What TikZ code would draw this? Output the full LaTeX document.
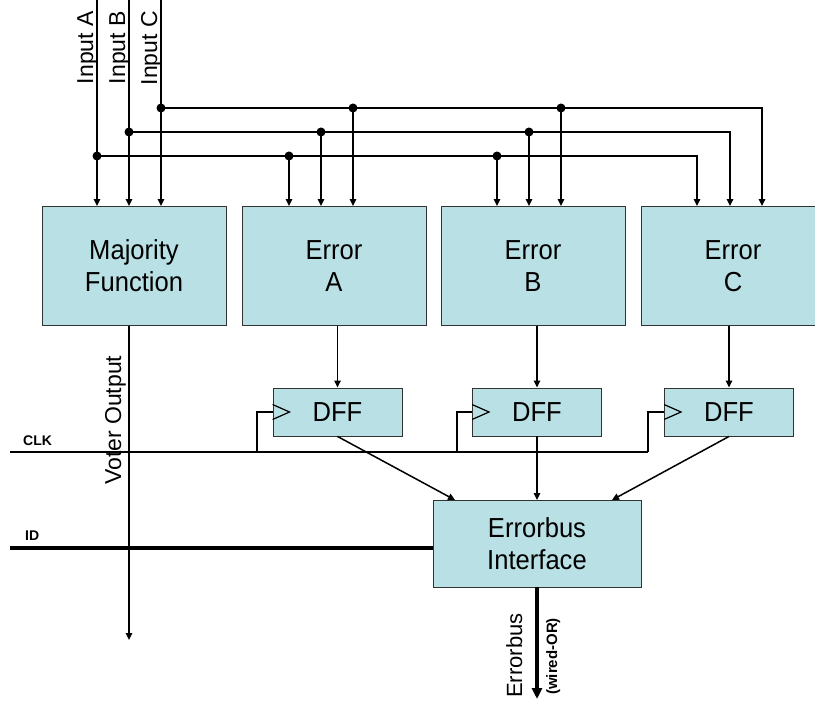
\documentclass[tikz,border=0pt]{standalone}
\usepackage{fontspec}
\setmainfont{Liberation Sans}
\newfontfamily\boxfont{Liberation Sans}[FakeStretch=0.93]
\usetikzlibrary{arrows.meta}
\definecolor{boxfill}{RGB}{185,224,228}
\begin{document}
\begin{tikzpicture}[x=1pt,y=-1pt,
  wire/.style={line width=1.5pt},
  arr/.style={wire,-{Triangle[length=7pt,width=6.5pt]}},
  blk/.style={draw=black!80,line width=0.9pt,fill=boxfill,inner sep=0pt,align=center,
              font=\boxfont\fontsize{27.5}{32}\selectfont},
  bigblk/.style={blk,minimum width=184pt,minimum height=119pt},
  dffblk/.style={blk,minimum width=129pt,minimum height=48pt},
  jdot/.style={circle,fill=black,inner sep=0pt,minimum size=9pt},
  vlabel/.style={rotate=90,inner sep=0pt,font=\fontsize{23}{23}\selectfont},
  smlabel/.style={inner sep=0pt,font=\bfseries\fontsize{14}{14}\selectfont}
]
\useasboundingbox (0,0) rectangle (815,706);

% blocks
\node[bigblk] (maj) at (134,266) {Majority\\Function};
\node[bigblk] (errA) at (334,266) {Error\\A};
\node[bigblk] (errB) at (533,266) {Error\\B};
\node[bigblk] (errC) at (733,266) {Error\\C};
\node[dffblk] (dff1) at (337.5,412) {DFF};
\node[dffblk] (dff2) at (537,412) {DFF};
\node[dffblk] (dff3) at (729,412) {DFF};
\node[blk,minimum width=208pt,minimum height=87pt] (eb) at (537,543.5) {Errorbus\\Interface};

% input lines
\coordinate (inA) at (97,0);
\coordinate (inB) at (129,0);
\coordinate (inC) at (161,0);
\node[vlabel,anchor=base east] (lA) at (93,11) {Input A};
\node[vlabel,anchor=base east] (lB) at (125,11) {Input B};
\node[vlabel,anchor=base east] (lC) at (157,11) {Input C};
\draw[arr] (inA) -- (maj.north -| inA);
\draw[arr] (inB) -- (maj.north -| inB);
\draw[arr] (inC) -- (maj.north -| inC);

% junction dots on inputs
\node[jdot] (dA) at (97,156) {};
\node[jdot] (dB) at (129,132) {};
\node[jdot] (dC) at (161,108) {};

% buses to Error C
\coordinate (cA) at (697,156);
\coordinate (cB) at (730,132);
\coordinate (cC) at (762,108);
\draw[arr] (dA.center) -| (errC.north -| cA);
\draw[arr] (dB.center) -| (errC.north -| cB);
\draw[arr] (dC.center) -| (errC.north -| cC);

% branches to Error A
\node[jdot] (a1) at (289,156) {};
\node[jdot] (a2) at (321,132) {};
\node[jdot] (a3) at (353,108) {};
\draw[arr] (a1.center) -- (errA.north -| a1);
\draw[arr] (a2.center) -- (errA.north -| a2);
\draw[arr] (a3.center) -- (errA.north -| a3);
% branches to Error B
\node[jdot] (b1) at (497,156) {};
\node[jdot] (b2) at (529,132) {};
\node[jdot] (b3) at (561,108) {};
\draw[arr] (b1.center) -- (errB.north -| b1);
\draw[arr] (b2.center) -- (errB.north -| b2);
\draw[arr] (b3.center) -- (errB.north -| b3);

% error -> DFF
\draw[arr] (errA.south -| dff1) -- (dff1.north);
\draw[arr] (errB.south -| dff2) -- (dff2.north);
\draw[arr] (errC.south -| dff3) -- (dff3.north);

% clock symbols
\foreach \d in {dff1,dff2,dff3}{
  \draw[line width=1.2pt] ([yshift=7.5pt]\d.west) -- ++(17,7.5) -- ++(-17,7.5);
}

% CLK line
\coordinate (clkL) at (10,452);
\coordinate (clkR) at (648,452);
\coordinate (ck1) at (257,452);
\coordinate (ck2) at (457,452);
\node[smlabel,anchor=base west] (clk) at (23,445) {CLK};
\draw[wire] (clkL) -- (clkR);
\draw[wire] (dff1.west) -| (ck1);
\draw[wire] (dff2.west) -| (ck2);
\draw[wire] (dff3.west) -| (clkR);

% DFF -> Errorbus interface
\coordinate (e1) at (455,500);
\coordinate (e2) at (537,500);
\coordinate (e3) at (612,500);
\draw[arr] (dff1.south) -- (e1);
\draw[arr] (dff2.south) -- (e2);
\draw[arr] (dff3.south) -- (e3);

% ID line
\coordinate (idL) at (10,548);
\node[smlabel,anchor=base west] (id) at (25,540) {ID};
\draw[line width=4pt] (idL) -- (eb.west |- idL);

% voter output
\coordinate (vout) at (129,640);
\draw[arr] (maj.south -| vout) -- (vout);
\node[vlabel,anchor=base west] (vl) at (121,485) {Voter Output};

% errorbus output
\coordinate (ebus) at (537,699);
\draw[line width=4pt,-{Triangle[length=11pt,width=10pt]}] (eb.south -| ebus) -- (ebus);
\node[vlabel,anchor=base west,font=\fontsize{22}{22}\selectfont] (ebl) at (522,698) {Errorbus};
\node[vlabel,anchor=base west,font=\bfseries\fontsize{15}{15}\selectfont] (wor) at (557,695) {(wired-OR)};
\end{tikzpicture}
\end{document}
